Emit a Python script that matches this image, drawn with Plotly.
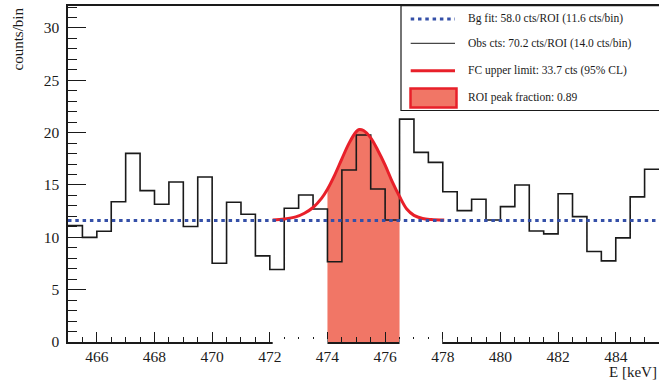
import plotly.graph_objects as go

# ---------------- data ----------------
bin_lo = [465.0, 465.5, 466.0, 466.5, 467.0, 467.5, 468.0, 468.5, 469.0, 469.5,
          470.0, 470.5, 471.0, 471.5, 472.0, 472.5, 473.0, 473.5, 474.0, 474.5,
          475.0, 475.5, 476.0, 476.5, 477.0, 477.5, 478.0, 478.5, 479.0, 479.5,
          480.0, 480.5, 481.0, 481.5, 482.0, 482.5, 483.0, 483.5, 484.0, 484.5,
          485.0]
bin_hi_last = 485.5
obs_counts = [11.12, 10.0, 10.58, 13.4, 18.02, 14.46, 13.16, 15.29, 11.03, 15.76,
              7.53, 13.35, 12.2, 8.23, 6.92, 12.78, 14.05, 12.71, 7.66, 16.43,
              19.77, 14.62, 11.66, 21.29, 18.12, 17.16, 14.36, 12.55, 13.64, 11.66,
              12.93, 15.0, 10.61, 10.33, 14.17, 11.98, 8.64, 7.75, 9.95, 13.86,
              16.5]
bg_level = 11.6
bg_x = [465.0, 485.5]

# FC upper-limit curve
fc_x = [472.1, 472.5, 472.9, 473.2, 473.5, 473.8, 474.0, 474.25, 474.5, 474.75,
        475.0, 475.1, 475.25, 475.5, 475.75, 476.0, 476.25, 476.5, 476.75, 477.0,
        477.3, 477.6, 478.05]
fc_y = [11.66, 11.75, 11.95, 12.3, 12.85, 13.75, 14.6, 15.95, 17.5, 19.0,
        20.1, 20.3, 20.2, 19.5, 18.3, 16.9, 15.3, 13.9, 12.7, 12.1,
        11.8, 11.7, 11.65]
roi = [474.0, 476.5]

x_ticks = [466, 468, 470, 472, 474, 476, 478, 480, 482, 484]
y_ticks = [0, 5, 10, 15, 20, 25, 30]

legend_labels = ["Bg fit: 58.0 cts/ROI (11.6 cts/bin)",
                 "Obs cts: 70.2 cts/ROI (14.0 cts/bin)",
                 "FC upper limit: 33.7 cts (95% CL)",
                 "ROI peak fraction: 0.89"]

# ---------------- layout geometry ----------------
W, H = 659, 384
ML, MR, MT, MB = 68, 0, 6, 42
PW, PH = W - ML - MR, H - MT - MB


def px(xp):
    return (xp - ML) / PW


def py(yp):
    return (H - MB - yp) / PH


FONT = "Liberation Serif"
BLUE = "#3550a8"
RED = "#e8202a"
FILL = "rgb(241,118,102)"
BLACK = "#1a1a1a"

fig = go.Figure()

# ROI fill under the curve
roi_x = [roi[0]] + [x for x in fc_x if roi[0] < x < roi[1]] + [roi[1]]
roi_y = [fc_y[fc_x.index(roi[0])]] + [y for x, y in zip(fc_x, fc_y) if roi[0] < x < roi[1]] + [fc_y[fc_x.index(roi[1])]]
fig.add_trace(go.Scatter(x=roi_x, y=roi_y, mode="lines", fill="tozeroy",
                         fillcolor=FILL, line=dict(width=0, shape="spline", color=FILL),
                         showlegend=False, hoverinfo="skip"))

# observed histogram
hx = bin_lo + [bin_hi_last]
hy = obs_counts + [obs_counts[-1]]
fig.add_trace(go.Scatter(x=hx, y=hy, mode="lines",
                         line=dict(color=BLACK, width=1.6, shape="hv"),
                         showlegend=False))

# FC curve
fig.add_trace(go.Scatter(x=fc_x, y=fc_y, mode="lines",
                         line=dict(color=RED, width=3, shape="spline"),
                         showlegend=False))

# background fit
fig.add_trace(go.Scatter(x=bg_x, y=[bg_level, bg_level], mode="lines",
                         line=dict(color=BLUE, width=3, dash="3.5px,3.8px"),
                         showlegend=False))

shapes = []
# white gaps in the x-axis line around the peak
for a, b in [(472.1, roi[0]), (roi[1], 477.98)]:
    shapes.append(dict(type="rect", xref="x", yref="paper", x0=a, x1=b,
                       y0=-3 / PH, y1=3 / PH, fillcolor="white",
                       line=dict(width=0), layer="above"))

# legend box
shapes.append(dict(type="rect", xref="paper", yref="paper",
                   x0=px(401), x1=px(662), y0=py(110.5), y1=py(5.7),
                   fillcolor="white", line=dict(color=BLACK, width=1.2), layer="above"))
sym_x0, sym_x1 = px(410.7), px(455)
rows = [19, 43.3, 70.7, 97.5]
shapes.append(dict(type="line", xref="paper", yref="paper", x0=sym_x0, x1=sym_x1,
                   y0=py(rows[0]), y1=py(rows[0]),
                   line=dict(color=BLUE, width=3, dash="3.5px,3.8px"), layer="above"))
shapes.append(dict(type="line", xref="paper", yref="paper", x0=sym_x0, x1=sym_x1,
                   y0=py(rows[1]), y1=py(rows[1]),
                   line=dict(color=BLACK, width=1), layer="above"))
shapes.append(dict(type="line", xref="paper", yref="paper", x0=sym_x0, x1=sym_x1,
                   y0=py(rows[2]), y1=py(rows[2]),
                   line=dict(color=RED, width=3), layer="above"))
shapes.append(dict(type="rect", xref="paper", yref="paper", x0=px(410.5), x1=px(456.5),
                   y0=py(107.5), y1=py(88.5),
                   fillcolor=FILL, line=dict(color=RED, width=2.5), layer="above"))

annotations = []
for lab, r in zip(legend_labels, rows):
    annotations.append(dict(text=lab, xref="paper", yref="paper", x=px(466), y=py(r),
                            xanchor="left", yanchor="middle", showarrow=False,
                            font=dict(family=FONT, size=11.5, color=BLACK)))
annotations.append(dict(text="counts/bin", xref="paper", yref="paper",
                        x=px(17), y=py(6), xanchor="center", yanchor="top",
                        textangle=-90, showarrow=False,
                        font=dict(family=FONT, size=15, color=BLACK)))
annotations.append(dict(text="E [keV]", xref="paper", yref="paper",
                        x=px(659), y=py(372), xanchor="right", yanchor="middle",
                        showarrow=False, font=dict(family=FONT, size=15, color=BLACK)))

fig.update_layout(
    width=W, height=H,
    margin=dict(l=ML, r=MR, t=MT, b=MB, pad=0),
    paper_bgcolor="white", plot_bgcolor="white",
    showlegend=False,
    shapes=shapes, annotations=annotations,
    font=dict(family=FONT, size=15, color=BLACK),
    xaxis=dict(range=[465, 485.5], tickmode="array", tickvals=x_ticks,
               ticktext=[str(v) for v in x_ticks],
               ticks="inside", ticklen=10, tickwidth=1, tickcolor=BLACK,
               minor=dict(dtick=0.5, tick0=465, ticks="inside", ticklen=5,
                          tickwidth=1, tickcolor=BLACK, showgrid=False),
               showline=True, linecolor=BLACK, linewidth=1.5, mirror=True,
               showgrid=False, zeroline=False,
               tickfont=dict(family=FONT, size=15.5, color=BLACK)),
    yaxis=dict(range=[0, 32.1], tickmode="array", tickvals=y_ticks,
               ticktext=[str(v) for v in y_ticks],
               ticks="inside", ticklen=18, tickwidth=1, tickcolor=BLACK,
               minor=dict(dtick=1, tick0=0, ticks="inside", ticklen=9,
                          tickwidth=1, tickcolor=BLACK, showgrid=False),
               showline=True, linecolor=BLACK, linewidth=1.5,
               showgrid=False, zeroline=False, ticklabelstandoff=4,
               tickfont=dict(family=FONT, size=15.5, color=BLACK)),
)

fig.write_html("out.html", config={"displayModeBar": False},
               post_script="document.body.style.margin='0';document.body.style.padding='0';")
